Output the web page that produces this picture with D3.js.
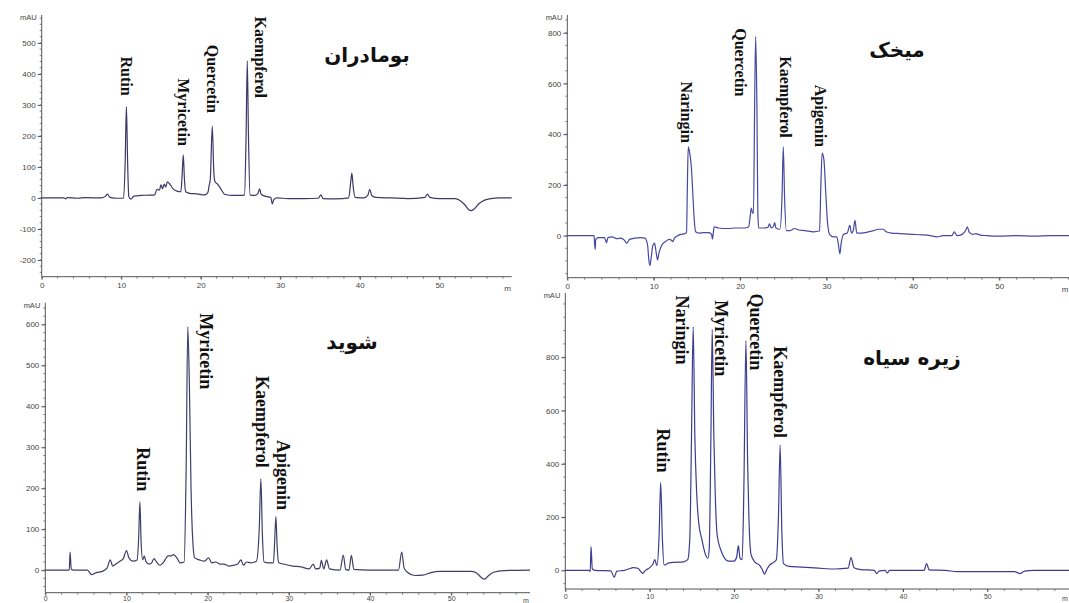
<!DOCTYPE html>
<html>
<head>
<meta charset="utf-8">
<script src="https://cdn.jsdelivr.net/npm/d3@7"></script>
<style>
  body { margin: 0; background: #fff; }
  svg { display: block; }
  .tick-label { font-family: "Liberation Sans", Arial, sans-serif; font-size: 8px; fill: #444; }
  .peak-label { font-family: "Liberation Serif", "Times New Roman", serif; font-weight: bold; fill: #111; }
  .title { font-family: "DejaVu Sans", sans-serif; font-weight: bold; font-size: 20px; fill: #111; }
</style>
</head>
<body>
<div id="chart"></div>
<script>
// chromatogram traces, [retention time (min), absorbance (mAU)]
var bomadaranTrace = [[0,0],[2.8,0],[3.0,-3],[3.2,1],[4.5,-1],[5.5,1],[7.5,0],[8.0,5],[8.25,12],[8.6,2],[9.5,-1],[10.3,-1],[10.5,120],[10.65,295],[10.8,120],[10.95,5],[11.2,-4],[11.6,6],[12.5,8],[13.5,9],[14.2,10],[14.5,28],[14.8,25],[15.0,42],[15.2,30],[15.4,45],[15.6,35],[15.8,52],[16.1,45],[16.5,30],[17.0,22],[17.5,20],[17.65,70],[17.8,139],[17.95,60],[18.1,20],[18.6,15],[19.5,13],[20.5,10],[20.9,18],[21.05,40],[21.2,60],[21.45,232],[21.65,80],[21.8,52],[22.1,45],[22.5,30],[23.0,12],[24.0,8],[25.0,8],[25.5,10],[25.7,200],[25.85,442],[26.0,200],[26.2,10],[26.8,8],[27.2,15],[27.4,29],[27.6,12],[28.2,5],[28.8,2],[29.0,-19],[29.2,-5],[29.6,0],[31,-2],[33,-2],[34.8,-1],[35.1,10],[35.4,-2],[37,-3],[38.6,0],[38.85,50],[39.0,80],[39.15,40],[39.4,2],[40.5,0],[41.0,8],[41.25,28],[41.5,8],[42,2],[44,0],[46,-2],[48.2,2],[48.5,12],[48.8,2],[50,-2],[52,-2],[52.6,-8],[53.2,-22],[53.7,-38],[54.0,-41],[54.4,-35],[55.0,-18],[55.7,-7],[56.5,-2],[57.5,0],[59.1,0]];

var mikhakTrace = [[0,0],[3.1,0],[3.15,-30],[3.22,-54],[3.3,-15],[3.6,-8],[4.3,-8],[4.45,-20],[4.55,-28],[4.7,-8],[5.2,-5],[5.7,-12],[6.2,-10],[6.6,-18],[6.9,-30],[7.2,-15],[7.8,-10],[8.5,-8],[9.0,-10],[9.3,-40],[9.45,-100],[9.57,-118],[9.7,-90],[9.9,-40],[10.1,-30],[10.3,-70],[10.45,-96],[10.6,-70],[10.9,-40],[11.3,-25],[11.8,-15],[12.05,-18],[12.2,-24],[12.4,-10],[12.8,0],[13.2,5],[13.6,8],[13.8,12],[13.9,200],[14.0,350],[14.15,330],[14.4,250],[14.55,150],[14.7,60],[14.85,15],[15.2,10],[15.8,12],[16.4,12],[16.7,5],[16.8,-14],[16.9,10],[17.0,35],[17.5,30],[18.5,28],[19.5,30],[20.5,30],[21.0,35],[21.15,70],[21.3,108],[21.45,90],[21.55,88],[21.68,500],[21.8,785],[21.95,500],[22.05,100],[22.15,30],[22.7,30],[23.2,32],[23.4,46],[23.6,30],[23.9,40],[24.0,51],[24.15,30],[24.6,25],[24.85,150],[25.0,350],[25.15,150],[25.35,20],[25.8,20],[26.3,28],[26.8,22],[27.5,20],[28.5,15],[29.2,18],[29.35,200],[29.5,325],[29.7,300],[29.9,180],[30.1,60],[30.35,5],[30.8,-5],[31.2,-5],[31.4,-40],[31.55,-72],[31.7,-30],[32.0,5],[32.4,10],[32.7,40],[32.9,10],[33.1,20],[33.3,60],[33.5,10],[34.5,12],[35.5,20],[36.0,25],[36.6,25],[36.9,15],[37.5,10],[38.5,8],[40,5],[41,3],[42,0],[42.8,-5],[43.5,0],[44.5,0],[44.8,15],[45.1,0],[45.7,5],[46.1,20],[46.3,35],[46.5,15],[46.9,5],[47.3,8],[47.8,2],[48.5,0],[50,-2],[52,0],[54,-2],[56,0],[58.1,0]];

var shevidTrace = [[0,0],[2.95,0],[3.05,44],[3.2,2],[3.5,0],[5.2,0],[5.7,-11],[6.3,-6],[7.0,-3],[7.6,5],[8.0,25],[8.3,10],[8.7,15],[9.2,22],[9.6,28],[10.0,48],[10.3,30],[10.8,22],[11.3,25],[11.5,80],[11.65,167],[11.8,70],[12.0,25],[12.2,35],[12.4,20],[12.8,15],[13.1,18],[13.4,28],[13.7,20],[14.1,12],[14.5,18],[14.9,30],[15.1,35],[15.5,35],[15.8,38],[16.2,30],[16.6,18],[17.1,20],[17.35,250],[17.55,594],[17.75,450],[17.95,200],[18.2,60],[18.4,30],[19.0,25],[19.6,22],[20.1,30],[20.5,18],[21.0,20],[21.5,15],[22.0,15],[22.6,10],[23.2,12],[23.7,15],[24.1,25],[24.4,12],[24.8,20],[25.3,18],[26.0,22],[26.35,100],[26.55,223],[26.75,80],[26.95,20],[27.5,18],[28.1,18],[28.25,70],[28.4,131],[28.55,60],[28.75,18],[29.3,15],[30.5,10],[31.5,8],[32.5,3],[33.0,15],[33.3,3],[33.8,5],[34.0,24],[34.3,3],[34.65,25],[35.0,3],[36.3,0],[36.7,37],[37.0,2],[37.4,0],[37.7,36],[38.0,2],[40,0],[43.5,0],[43.9,44],[44.2,5],[44.6,-5],[45.5,-13],[46.5,-12],[47.5,-6],[48.5,-3],[52.5,-3],[53.2,-8],[53.7,-18],[54.1,-22],[54.5,-15],[55.2,-5],[56.5,-1],[59.7,0]];

var ziraTrace = [[0,0],[2.85,0],[2.95,-5],[3.05,89],[3.2,5],[3.5,0],[5.4,-2],[5.8,-26],[6.1,-3],[7.0,0],[7.5,5],[8.05,10],[8.6,8],[8.9,-3],[9.15,-11],[9.5,0],[10.0,10],[10.4,25],[10.6,40],[10.85,18],[11.1,120],[11.3,330],[11.5,120],[11.7,20],[12.3,28],[13.0,30],[14.0,32],[14.5,40],[14.75,120],[14.95,500],[15.15,915],[15.35,500],[15.55,300],[15.8,180],[16.15,120],[16.6,60],[16.9,45],[17.05,80],[17.25,500],[17.4,905],[17.6,500],[17.75,300],[18.0,130],[18.5,70],[19.3,35],[20.0,35],[20.3,50],[20.5,93],[20.7,45],[20.95,40],[21.15,300],[21.4,862],[21.6,400],[21.75,200],[22.0,60],[22.5,30],[23.0,20],[23.3,5],[23.6,-14],[23.9,5],[24.2,20],[24.7,30],[25.0,40],[25.25,200],[25.45,470],[25.65,150],[25.85,25],[26.5,15],[28,12],[30,8],[32,5],[33.5,8],[33.85,48],[34.2,10],[35,3],[36.6,0],[36.9,-12],[37.2,-2],[37.9,0],[38.15,-10],[38.4,0],[42.5,0],[42.8,25],[43.1,2],[45,0],[46.5,-5],[50,-5],[53.2,-5],[53.9,-12],[54.4,-3],[55.5,0],[59.7,0]];

// peak names and where their labels sit, in (min, mAU)
var bomadaranPeaks = ["Rutin", "Myricetin", "Quercetin", "Kaempferol"];
var bomadaranLabelAt = [[10.7,456],[17.8,386],[21.5,494],[27.5,585]];
var mikhakPeaks = ["Naringin", "Quercetin", "Kaempferol", "Apigenin"];
var mikhakLabelAt = [[13.8,608],[20.0,818],[25.2,707],[29.35,595]];
var shevidPeaks = ["Rutin", "Myricetin", "Kaempferol", "Apigenin"];
var shevidLabelAt = [[12.0,300],[19.75,627],[26.65,474],[29.3,318]];
var ziraPeaks = ["Rutin", "Naringin", "Myricetin", "Quercetin", "Kaempferol"];
var ziraLabelAt = [[11.55,532],[13.8,1032],[18.4,1014],[22.6,1039],[25.45,841]];

var titles = ["بومادران", "میخک", "شوید", "زیره سیاه"];
var xTicks = [0, 10, 20, 30, 40, 50];

// panel frames (pixels) and axis extents
var panels = [
  { trace: bomadaranTrace, peaks: bomadaranPeaks, labelAt: bomadaranLabelAt, title: titles[0],
    x0: 41.7, x1: 511.7, tMax: 59.1, yTop: 15, yBot: 276.7, vMin: -254, vMax: 590,
    yTicks: [-200,-100,0,100,200,300,400,500], minor: 20, labelSize: 16, color: "#3d3868",
    titleX: 367, titleY: 62, xFont: 8, xPad: 3 },
  { trace: mikhakTrace, peaks: mikhakPeaks, labelAt: mikhakLabelAt, title: titles[1],
    x0: 567.3, x1: 1069, tMax: 58.07, yTop: 15, yBot: 277.7, vMin: -166, vMax: 870,
    yTicks: [0,200,400,600,800], minor: 50, labelSize: 16, color: "#4648a2",
    titleX: 897, titleY: 57, xFont: 8, xPad: 3 },
  { trace: shevidTrace, peaks: shevidPeaks, labelAt: shevidLabelAt, title: titles[2],
    x0: 45.3, x1: 530, tMax: 59.7, yTop: 302.7, yBot: 592.7, vMin: -55, vMax: 653,
    yTicks: [0,100,200,300,400,500,600], minor: 20, labelSize: 18, color: "#3f3f66",
    titleX: 352, titleY: 349, xFont: 7, xPad: 0 },
  { trace: ziraTrace, peaks: ziraPeaks, labelAt: ziraLabelAt, title: titles[3],
    x0: 565.3, x1: 1069, tMax: 59.67, yTop: 293, yBot: 589, vMin: -70, vMax: 1041,
    yTicks: [0,200,400,600,800], minor: 50, labelSize: 18, color: "#3c3c92",
    titleX: 912, titleY: 365, xFont: 7, xPad: 2 }
];

var width = 1069, height = 603;

var svg = d3.select("#chart").append("svg")
    .attr("width", width)
    .attr("height", height);

panels.forEach(function(p) {
    var x = d3.scaleLinear().domain([0, p.tMax]).range([p.x0, p.x1]);
    var y = d3.scaleLinear().domain([p.vMin, p.vMax]).range([p.yBot, p.yTop]);
    var g = svg.append("g");

    // minor ticks on y
    var yMinor = d3.range(Math.ceil(p.vMin / p.minor) * p.minor, p.vMax, p.minor);
    g.selectAll(".ymin").data(yMinor).enter().append("line")
        .attr("x1", p.x0 - 2).attr("x2", p.x0)
        .attr("y1", function(d) { return y(d); }).attr("y2", function(d) { return y(d); })
        .attr("stroke", "#666").attr("stroke-width", 0.8);

    // y axis, plain hyphen for negatives like the instrument printout
    var yAxis = d3.axisLeft(y).tickValues(p.yTicks).tickSize(4).tickPadding(2)
        .tickFormat(function(d) { return String(d); });
    var ya = g.append("g").attr("transform", "translate(" + p.x0 + ",0)").call(yAxis);
    ya.select(".domain").attr("stroke", "#555").attr("d", "M0," + p.yTop + "V" + p.yBot);
    ya.selectAll(".tick line").attr("stroke", "#555");
    ya.selectAll("text").attr("class", "tick-label");
    ya.attr("font-size", null).attr("font-family", null);

    g.append("text").attr("class", "tick-label")
        .attr("x", p.x0 - 5).attr("y", p.yTop + 5)
        .attr("text-anchor", "end").style("font-size", "7.5px")
        .text("mAU");

    // minor ticks on x
    var xMinor = d3.range(0, p.tMax, 2);
    g.selectAll(".xmin").data(xMinor).enter().append("line")
        .attr("x1", function(d) { return x(d); }).attr("x2", function(d) { return x(d); })
        .attr("y1", p.yBot).attr("y2", p.yBot + 2)
        .attr("stroke", "#666").attr("stroke-width", 0.8);

    // x axis
    var xAxis = d3.axisBottom(x).tickValues(xTicks).tickSize(3).tickPadding(p.xPad);
    var xa = g.append("g").attr("transform", "translate(0," + p.yBot + ")").call(xAxis);
    xa.select(".domain").attr("stroke", "#555").attr("d", "M" + p.x0 + ",0H" + p.x1);
    xa.selectAll(".tick line").attr("stroke", "#555");
    xa.selectAll("text").attr("class", "tick-label").style("font-size", p.xFont + "px");
    xa.attr("font-size", null).attr("font-family", null);

    g.append("text").attr("class", "tick-label")
        .attr("x", p.x1 - 4).attr("y", p.yBot + 3 + p.xPad + p.xFont)
        .attr("text-anchor", "middle").style("font-size", p.xFont + "px")
        .text("m");

    // the trace
    var line = d3.line()
        .x(function(d) { return x(d[0]); })
        .y(function(d) { return y(d[1]); })
        .curve(d3.curveMonotoneX);

    g.append("path")
        .datum(p.trace)
        .attr("fill", "none")
        .attr("stroke", p.color)
        .attr("stroke-width", 1.2)
        .attr("stroke-linejoin", "round")
        .attr("d", line);

    // peak labels, rotated, reading top to bottom
    g.selectAll(".peak").data(p.peaks).enter().append("text")
        .attr("class", "peak-label")
        .style("font-size", p.labelSize + "px")
        .attr("transform", function(d, i) {
            return "translate(" + x(p.labelAt[i][0]) + "," + y(p.labelAt[i][1]) + ") rotate(90)";
        })
        .attr("dominant-baseline", "central")
        .text(function(d) { return d; });

    // sample name
    g.append("text")
        .attr("class", "title")
        .attr("x", p.titleX).attr("y", p.titleY)
        .attr("text-anchor", "middle")
        .attr("direction", "rtl")
        .text(p.title);
});
</script>
</body>
</html>
